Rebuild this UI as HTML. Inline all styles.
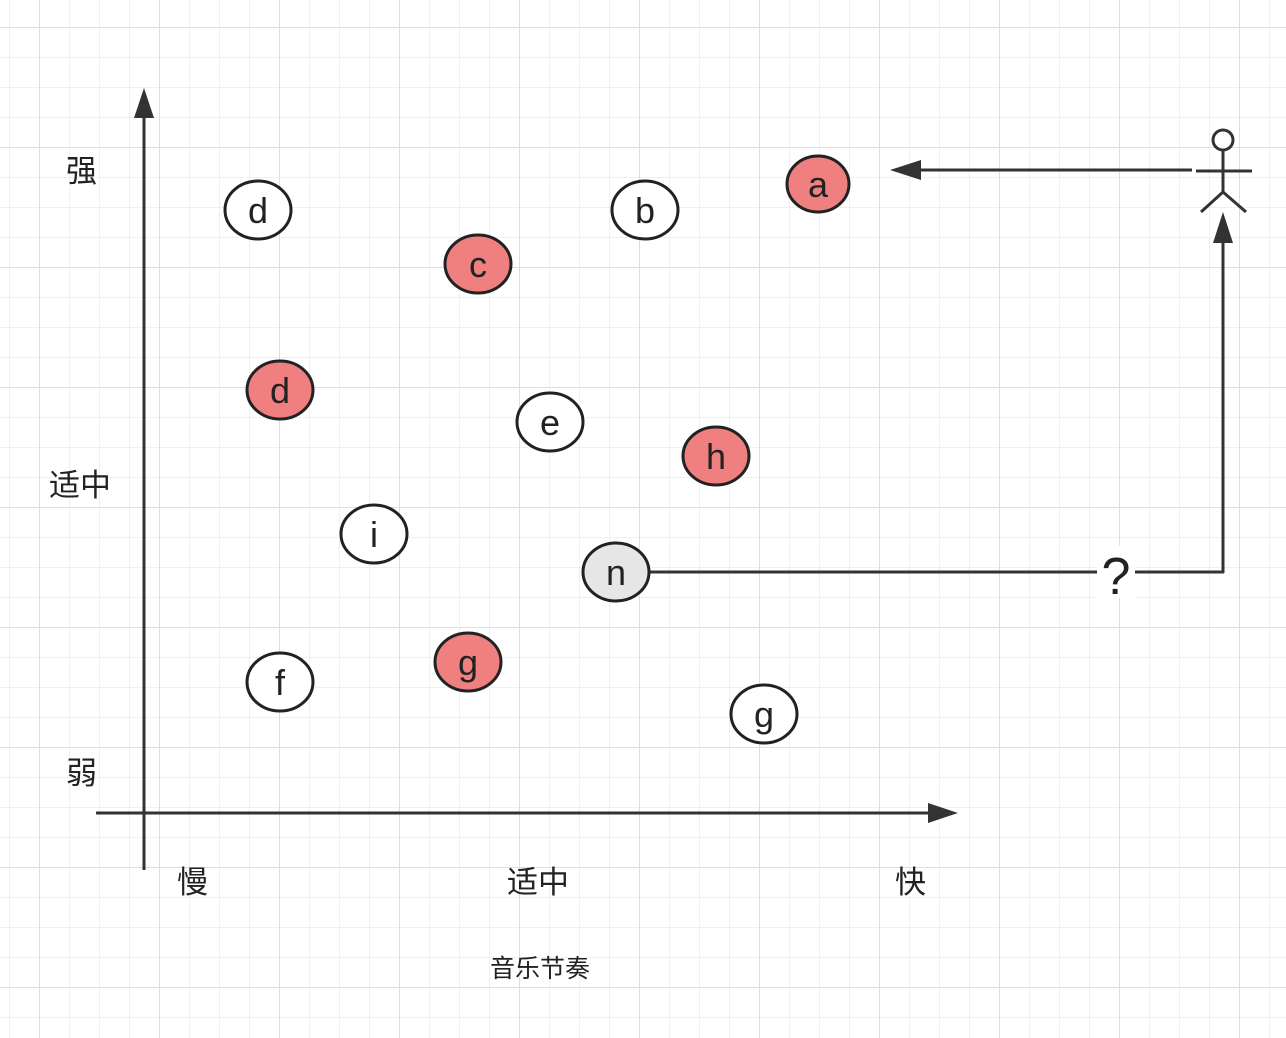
<!DOCTYPE html>
<html><head><meta charset="utf-8"><style>
html,body{margin:0;padding:0;background:#fff;}
svg{display:block;}
text{font-family:"Liberation Sans","Noto Sans CJK SC",sans-serif;fill:#222;}
</style></head><body>
<svg width="1286" height="1038" viewBox="0 0 1286 1038" xmlns="http://www.w3.org/2000/svg">
<defs>
<pattern id="minor" width="30" height="30" patternUnits="userSpaceOnUse" x="9" y="-3">
<path d="M0 0H30M0 0V30" stroke="#e8e8e8" stroke-width="1.3" fill="none"/>
</pattern>
<pattern id="major" width="120" height="120" patternUnits="userSpaceOnUse" x="39" y="27">
<path d="M0 0H120M0 0V120" stroke="#dedede" stroke-width="2" fill="none"/>
</pattern>
</defs>
<rect width="1286" height="1038" fill="url(#minor)"/>
<rect width="1286" height="1038" fill="url(#major)"/>

<line x1="144" y1="870" x2="144" y2="115" stroke="#333" stroke-width="3"/>
<polygon points="144,88 134,118 154,118" fill="#333"/>
<line x1="96" y1="813" x2="930" y2="813" stroke="#333" stroke-width="3"/>
<polygon points="958,813 928,803 928,823" fill="#333"/>

<g font-size="31">
<text x="66" y="182">强</text>
<text x="49" y="496">适中</text>
<text x="66" y="784">弱</text>
<text x="177" y="893">慢</text>
<text x="507" y="893">适中</text>
<text x="895" y="893">快</text>
</g>
<text x="490" y="977" font-size="25">音乐节奏</text>

<g stroke="#222" stroke-width="3" font-size="36" text-anchor="middle">
<ellipse cx="258" cy="210" rx="33" ry="29" fill="#fff"/><text x="258" y="223" stroke="none">d</text>
<ellipse cx="645" cy="210" rx="33" ry="29" fill="#fff"/><text x="645" y="223" stroke="none">b</text>
<ellipse cx="818" cy="184" rx="31" ry="28" fill="#f08080"/><text x="818" y="197" stroke="none">a</text>
<ellipse cx="478" cy="264" rx="33" ry="29" fill="#f08080"/><text x="478" y="277" stroke="none">c</text>
<ellipse cx="280" cy="390" rx="33" ry="29" fill="#f08080"/><text x="280" y="403" stroke="none">d</text>
<ellipse cx="550" cy="422" rx="33" ry="29" fill="#fff"/><text x="550" y="435" stroke="none">e</text>
<ellipse cx="716" cy="456" rx="33" ry="29" fill="#f08080"/><text x="716" y="469" stroke="none">h</text>
<ellipse cx="374" cy="534" rx="33" ry="29" fill="#fff"/><text x="374" y="547" stroke="none">i</text>
<ellipse cx="280" cy="682" rx="33" ry="29" fill="#fff"/><text x="280" y="695" stroke="none">f</text>
<ellipse cx="468" cy="662" rx="33" ry="29" fill="#f08080"/><text x="468" y="675" stroke="none">g</text>
<ellipse cx="764" cy="714" rx="33" ry="29" fill="#fff"/><text x="764" y="727" stroke="none">g</text>
</g>

<line x1="649" y1="572" x2="1224" y2="572" stroke="#333" stroke-width="3"/>
<line x1="1223" y1="573" x2="1223" y2="240" stroke="#333" stroke-width="3"/>
<polygon points="1223,212 1213,243 1233,243" fill="#333"/>
<rect x="1097" y="546" width="38" height="52" fill="#fff"/>
<text x="1116" y="594" font-size="52" text-anchor="middle" style="font-family:'Liberation Sans Narrow','Liberation Sans',sans-serif">?</text>
<g stroke="#222" stroke-width="3" font-size="36" text-anchor="middle">
<ellipse cx="616" cy="572" rx="33" ry="29" fill="#e6e6e6"/><text x="616" y="585" stroke="none">n</text>
</g>

<line x1="1192" y1="170" x2="918" y2="170" stroke="#333" stroke-width="3"/>
<polygon points="890,170 921,160 921,180" fill="#333"/>

<g stroke="#333" stroke-width="3" fill="none">
<circle cx="1223" cy="140" r="10" fill="#fff"/>
<line x1="1223" y1="150" x2="1223" y2="192"/>
<line x1="1196" y1="171" x2="1252" y2="171"/>
<polyline points="1201,212 1223,192 1246,212"/>
</g>
</svg>
</body></html>
